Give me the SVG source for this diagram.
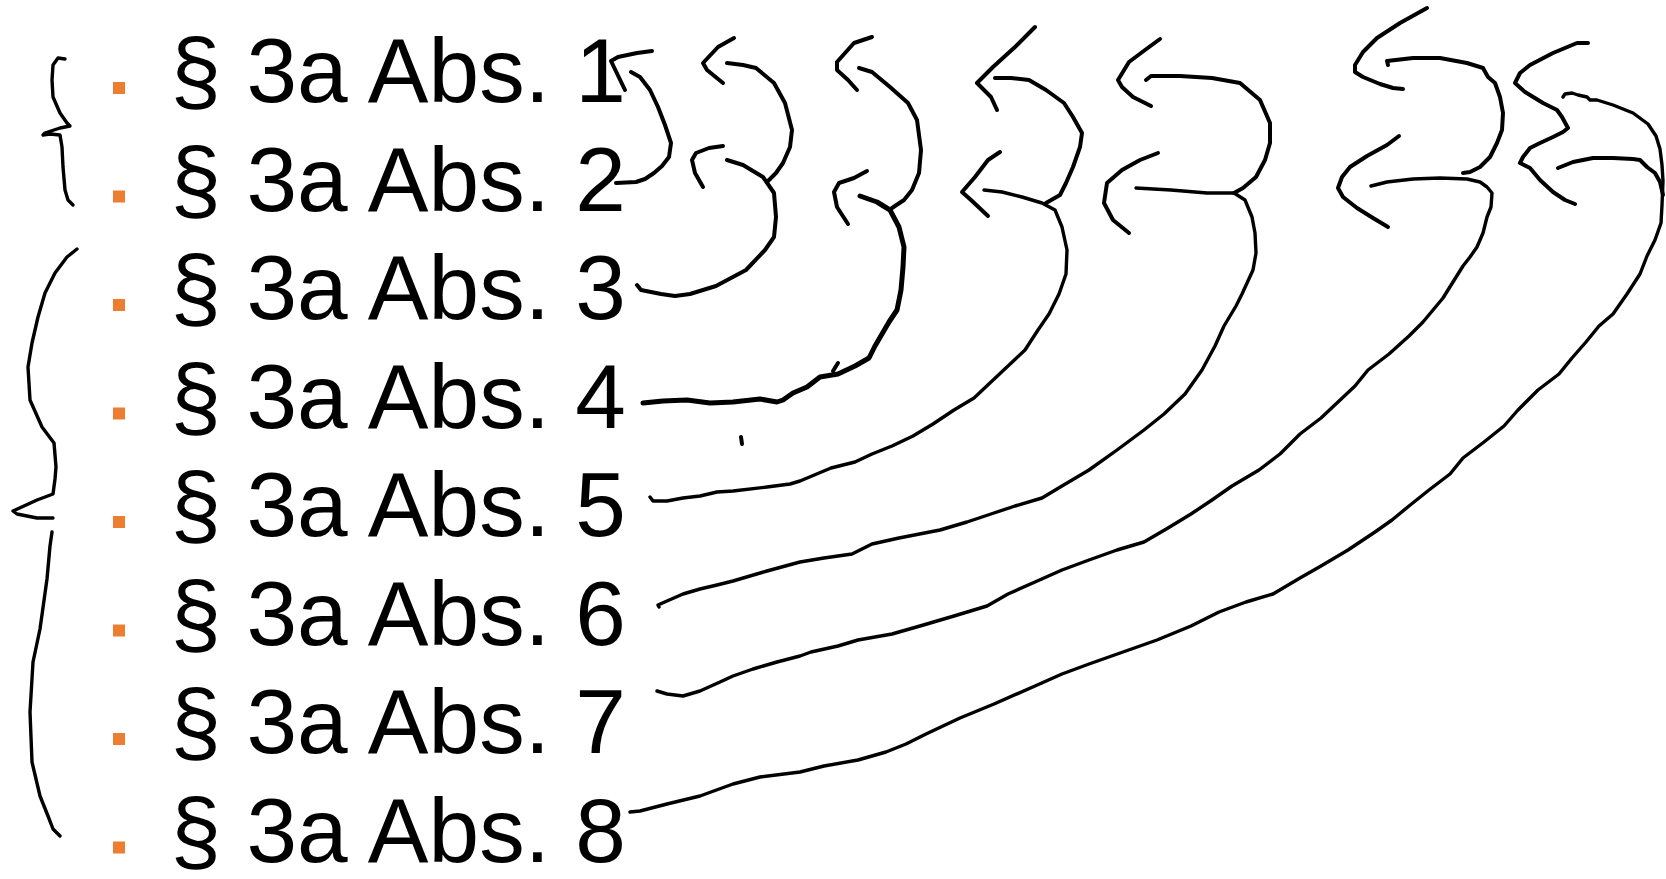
<svg xmlns="http://www.w3.org/2000/svg" width="1666" height="879" viewBox="0 0 1666 879">
<style>
.t{font-family:"Liberation Sans",Arial,sans-serif;font-size:91px;fill:#000}
.b{fill:#ED7D31}
.s{fill:none;stroke:#000;stroke-width:4;stroke-linecap:round;stroke-linejoin:round}
.l{stroke-width:3.4}
.w{stroke-width:5}
</style>
<rect width="1666" height="879" fill="#fff"/>
<g id="item1"><rect class="b" x="113" y="82" width="12" height="12"/><text class="t" x="170.5" y="102">§ 3a Abs. 1</text></g>
<g id="item2"><rect class="b" x="113" y="190.5" width="12" height="12"/><text class="t" x="170.5" y="210.5">§ 3a Abs. 2</text></g>
<g id="item3"><rect class="b" x="113" y="299" width="12" height="12"/><text class="t" x="170.5" y="319">§ 3a Abs. 3</text></g>
<g id="item4"><rect class="b" x="113" y="407.5" width="12" height="12"/><text class="t" x="170.5" y="427.5">§ 3a Abs. 4</text></g>
<g id="item5"><rect class="b" x="113" y="516" width="12" height="12"/><text class="t" x="170.5" y="536">§ 3a Abs. 5</text></g>
<g id="item6"><rect class="b" x="113" y="624.5" width="12" height="12"/><text class="t" x="170.5" y="644.5">§ 3a Abs. 6</text></g>
<g id="item7"><rect class="b" x="113" y="733" width="12" height="12"/><text class="t" x="170.5" y="753">§ 3a Abs. 7</text></g>
<g id="item8"><rect class="b" x="113" y="841.5" width="12" height="12"/><text class="t" x="170.5" y="861.5">§ 3a Abs. 8</text></g>
<g id="connectors">
<path class="s l" d="M65,59 L58,58 L53,65 L52,80 L53,97 L60,113 L67,123 L70,126 L60,128 L45,133 L43,135 L50,134 L60,135 L62,147 L63,167 L65,190 L68,200 L73,205"/>
<path class="s l" d="M77,249 L67,257 L55,273 L45,293 L38,317 L32,343 L28,367 L30,400 L42,427 L54,443 L56,467 L55,479 L53,494 L37,500 L13,511 L17,514 L37,518 L53,518"/>
<path class="s l" d="M52,532 L50,546 L47,579 L40,629 L33,662 L30,712 L32,762 L40,796 L48,816 L53,829 L60,836"/>
<path class="s" d="M652,51 L637,53 L618,57 L611,61 L625,90"/>
<path class="s" d="M631,72 L640,77 L650,90 L658,107 L665,125 L671,143 L669,157 L662,166 L654,173 L645,179 L636,182 L616,183"/>
<path class="s" d="M723,146 L709,148 L696,153 L692,160 L695,173 L703,187"/>
<path class="s" d="M727,160 L743,165 L763,177 L774,193 L776,217 L774,237 L765,250 L746,270 L716,286 L690,294 L675,296 L661,294 L641,290 L637,285"/>
<path class="s" d="M734,38 L718,47 L703,63 L707,70 L723,83"/>
<path class="s" d="M727,63 L743,65 L756,68 L774,83 L785,103 L792,130 L790,147 L783,163 L776,173 L767,182"/>
<path class="s" d="M872,37 L854,43 L837,62 L837,70 L848,80 L857,90"/>
<path class="s" d="M859,68 L872,72 L890,87 L908,103 L917,120 L921,150 L919,173 L912,190 L904,200 L892,208"/>
<path class="s" d="M867,171 L854,178 L839,183 L834,192 L837,207 L848,224"/>
<path class="s w" d="M860,196 L877,202 L890,210 L899,227 L904,247 L903,267 L901,290 L897,310 L889,322 L875,346 L869,358 L855,366 L838,374 L820,377 L807,387 L793,393 L783,400 L777,402 L760,399 L733,402 L710,403 L687,400 L663,401 L643,403"/>
<path class="s" d="M838,363 L833,371"/>
<path class="s" d="M741,437 L742,444"/>
<path class="s" d="M1035,27 L1015,47 L993,67 L977,83 L982,88 L991,97 L997,110"/>
<path class="s" d="M995,78 L1011,78 L1029,80 L1046,90 L1064,103 L1073,117 L1082,133 L1080,147 L1073,167 L1066,183 L1060,195 L1046,203"/>
<path class="s" d="M1000,152 L988,160 L975,177 L962,192 L971,200 L988,216"/>
<path class="s l" d="M984,190 L1002,192 L1022,197 L1042,203 L1055,210 L1062,227 L1067,250 L1066,274 L1059,294 L1049,314 L1038,330 L1025,350 L1008,366 L991,382 L974,398 L954,410 L933,424 L913,436 L892,446 L872,454 L855,462 L831,468 L800,481 L790,484 L767,487 L733,491 L717,492 L700,496 L683,498 L667,501 L653,501 L650,497"/>
<path class="s" d="M1160,39 L1145,50 L1129,62 L1118,80 L1122,87 L1133,97 L1151,106"/>
<path class="s" d="M1146,80 L1151,76 L1180,76 L1212,78 L1240,83 L1260,100 L1270,123 L1270,143 L1265,160 L1256,177 L1243,188 L1234,193"/>
<path class="s" d="M1158,153 L1140,160 L1122,170 L1107,183 L1104,203 L1113,220 L1129,233"/>
<path class="s l" d="M1136,188 L1171,190 L1207,193 L1234,193 L1245,200 L1252,217 L1255,233 L1256,253 L1253,270 L1242,294 L1236,306 L1224,326 L1215,346 L1202,370 L1185,394 L1164,414 L1144,430 L1117,450 L1089,470 L1062,486 L1042,498 L1015,506 L991,514 L967,522 L940,530 L899,538 L872,544 L852,554 L824,558 L800,562 L767,571 L733,581 L717,585 L700,589 L683,594 L667,601 L658,605 L659,607"/>
<path class="s" d="M1427,8 L1400,23 L1377,38 L1363,52 L1355,65 L1355,72 L1363,77 L1380,84 L1393,88 L1403,89"/>
<path class="s" d="M1388,65 L1387,61 L1413,58 L1440,58 L1467,63 L1483,68 L1488,77 L1495,83 L1500,97 L1503,113 L1502,130 L1497,143 L1490,157 L1480,167 L1470,172 L1463,173"/>
<path class="s" d="M1399,136 L1387,145 L1367,156 L1350,167 L1342,177 L1338,188 L1343,197 L1357,208 L1373,218 L1388,227"/>
<path class="s l" d="M1371,186 L1387,182 L1413,179 L1440,178 L1467,179 L1480,182 L1487,187 L1492,193 L1491,207 L1487,217 L1483,233 L1477,247 L1470,257 L1463,266 L1453,282 L1443,298 L1433,310 L1423,322 L1409,336 L1389,354 L1368,370 L1355,386 L1338,402 L1321,418 L1300,434 L1280,454 L1259,470 L1232,486 L1212,500 L1191,514 L1168,528 L1144,542 L1117,550 L1089,560 L1062,570 L1035,582 L1008,594 L987,606 L954,616 L920,626 L892,634 L858,640 L838,646 L811,652 L800,656 L777,662 L753,669 L733,676 L720,682 L700,691 L683,696 L667,694 L657,691"/>
<path class="s" d="M1588,43 L1577,43 L1553,53 L1530,65 L1520,73 L1515,83 L1525,92 L1543,103 L1557,110 L1562,117 L1568,128 L1563,132 L1553,137 L1540,143 L1530,148 L1523,157 L1520,163 L1530,168 L1540,180 L1553,192 L1565,200 L1575,204"/>
<path class="s l" d="M1563,97 L1565,94 L1572,93 L1578,95 L1587,97 L1590,100 L1597,100 L1613,105 L1633,113 L1648,124 L1656,136 L1660,149 L1662,165 L1663,181 L1662,205 L1661,223 L1655,240 L1647,256 L1640,274 L1627,294 L1613,314 L1599,326 L1586,342 L1572,358 L1559,374 L1538,390 L1518,410 L1504,426 L1484,442 L1463,458 L1450,474 L1429,490 L1409,506 L1392,520 L1375,532 L1348,550 L1321,566 L1300,578 L1273,594 L1246,602 L1219,612 L1191,626 L1157,640 L1123,652 L1089,664 L1062,674 L1035,686 L994,704 L960,718 L926,734 L906,744 L886,752 L858,760 L824,766 L800,772 L760,777 L733,784 L700,796 L667,804 L640,811 L630,812"/>
<path class="s" d="M1558,168 L1573,162 L1593,158 L1613,158 L1633,159 L1640,160 L1647,167 L1655,173 L1660,182 L1663,195"/>
</g>
</svg>
